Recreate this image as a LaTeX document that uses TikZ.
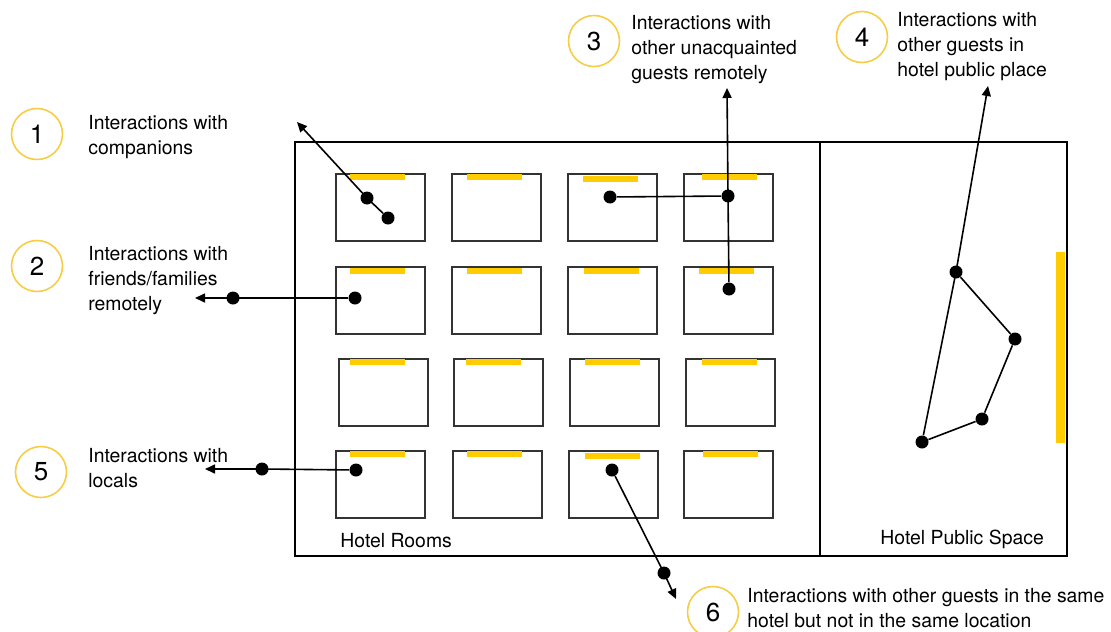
\documentclass[tikz,border=0pt]{standalone}
\usepackage{fontspec}
\setmainfont{TeX Gyre Heros}
\usetikzlibrary{arrows.meta}
\definecolor{hotelyellow}{RGB}{255,204,0}
\definecolor{ringyellow}{RGB}{247,205,70}
\definecolor{roomgray}{RGB}{51,51,51}

\begin{document}
\begin{tikzpicture}[x=0.5pt,y=-0.5pt,
    room/.style={draw=roomgray,line width=1pt,inner sep=0pt,minimum width=44.5pt,minimum height=33.5pt,anchor=north west},
    strip/.style={fill=hotelyellow},
    spot/.style={circle,fill=black,inner sep=0pt,minimum size=6.5pt},
    link/.style={line width=0.8pt},
    arr/.style={line width=0.8pt,-{Triangle[length=5pt,width=4.5pt]}},
    num/.style={circle,draw=ringyellow,line width=0.8pt,minimum size=25.5pt,inner sep=0pt,font=\fontsize{13}{13}\selectfont},
    note/.style={anchor=north west,inner sep=0pt,align=left,font=\fontsize{9.7}{12.5}\selectfont}]
        \useasboundingbox (0,0) rectangle (1111,631);
        % building outline
        \draw[line width=0.75pt] (295,142) rectangle (1067,556);
        \draw[line width=0.75pt] (820,142) -- (820,556);
        \node[anchor=base west,inner sep=0pt,font=\fontsize{9.7}{12.5}\selectfont] (rooms) at (340,547) {Hotel Rooms};
        \node[anchor=base west,inner sep=0pt,font=\fontsize{9.7}{12.5}\selectfont] (public) at (880,544) {Hotel Public Space};
        % rooms with their yellow strips
        \foreach \rx/\ry/\bx/\by [count=\i] in {335/173/15/1, 451/173/16/1, 567/173/16/3, 683/173/19/1,
            335/266/15/2, 451/266/16/2, 567/266/17/2, 683/266/16/2,
            338/358/12/1, 453/358/13/1, 569/358/16/1, 685/358/17/1,
            335/450/15/1, 452/450/15/1, 568/450/17/3, 683/450/20/1}
        {
            \node[room] (room\i) at (\rx,\ry) {};
            \fill[strip] (\rx+\bx,\ry+\by) rectangle ++(55,6);
        }
        \fill[strip] (1056,252) rectangle (1065,443);
        % numbered labels
        \node[num] (n1) at (37,134) {1};
        \node[num] (n2) at (37,266) {2};
        \node[num] (n3) at (594,41) {3};
        \node[num] (n4) at (862,37) {4};
        \node[num] (n5) at (41,472) {5};
        \node[num] (n6) at (713,612) {6};
        \node[note] (txt1) at (88,115) {Interactions with\\companions};
        \node[note] (txt2) at (88,246) {Interactions with\\friends/families\\remotely};
        \node[note] (txt3) at (631,15) {Interactions with\\other unacquainted\\guests remotely};
        \node[note] (txt4) at (897,12) {Interactions with\\other guests in\\hotel public place};
        \node[note] (txt5) at (88,448) {Interactions with\\locals};
        \node[note] (txt6) at (747,588) {Interactions with other guests in the same\\hotel but not in the same location};
        % 1
        \node[spot] (d1a) at (367,198) {};
        \node[spot] (d1b) at (388,218) {};
        \coordinate (e1) at (297,122);
        \draw[arr] (d1b) -- (d1a.center) -- (e1);
        % 2
        \node[spot] (d2a) at (355,298) {};
        \node[spot] (d2b) at (233,298) {};
        \coordinate (e2) at (195,298);
        \draw[arr] (d2a) -- (d2b.center) -- (e2);
        % 3
        \node[spot] (d3a) at (610,197) {};
        \node[spot] (d3b) at (728,196) {};
        \node[spot] (d3c) at (729,289) {};
        \coordinate (e3) at (727,88);
        \draw[link] (d3a) -- (d3b);
        \draw[arr] (d3c) -- (d3b.center) -- (e3);
        % 4
        \node[spot] (d4a) at (956,272) {};
        \node[spot] (d4b) at (1015,339) {};
        \node[spot] (d4c) at (982,419) {};
        \node[spot] (d4d) at (922,442) {};
        \coordinate (e4) at (988,86);
        \draw[link] (d4a) -- (d4b) -- (d4c) -- (d4d);
        \draw[arr] (d4d) -- (d4a.center) -- (e4);
        % 5
        \node[spot] (d5a) at (356,470) {};
        \node[spot] (d5b) at (262,469) {};
        \coordinate (e5) at (205,469);
        \draw[arr] (d5a) -- (d5b.center) -- (e5);
        % 6
        \node[spot] (d6a) at (612,470) {};
        \node[spot] (d6b) at (664,573) {};
        \coordinate (e6) at (676,599);
        \draw[arr] (d6a) -- (d6b.center) -- (e6);
\end{tikzpicture}
\end{document}
